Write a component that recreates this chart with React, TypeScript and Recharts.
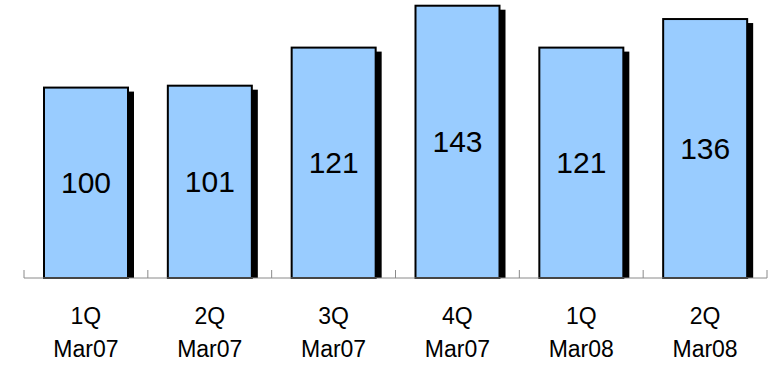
import React from 'react';
import { BarChart, Bar, XAxis, YAxis, LabelList } from 'recharts';

const quarters = ['1Q', '2Q', '3Q', '4Q', '1Q', '2Q'];
const periods = ['Mar07', 'Mar07', 'Mar07', 'Mar07', 'Mar08', 'Mar08'];
const values = [100, 101, 121, 143, 121, 136];

const data = values.map((v, i) => ({ name: `${quarters[i]}|${periods[i]}`, value: v }));

const FONT = '"Liberation Sans", Arial, sans-serif';
const AXIS_COLOR = '#8a8a8a';

const ShadowBar = (props: any) => {
  const { x, y, width, height } = props;
  return (
    <g>
      <rect x={x + 6} y={y + 4} width={width} height={Math.max(height - 4, 0)} fill="#000" />
      <rect x={x} y={y} width={width} height={height} fill="#99CCFF" stroke="#000" strokeWidth={2} />
    </g>
  );
};

const QuarterTick = (props: any) => {
  const { x, y, payload, index, visibleTicksCount } = props;
  const band = 743 / 6;
  const [q, p] = String(payload.value).split('|');
  return (
    <g>
      <line x1={x - band / 2} x2={x - band / 2} y1={y} y2={y - 8} stroke={AXIS_COLOR} />
      {index === visibleTicksCount - 1 && (
        <line x1={x + band / 2} x2={x + band / 2} y1={y} y2={y - 8} stroke={AXIS_COLOR} />
      )}
      <text x={x} y={y} textAnchor="middle" fill="#000" fontSize={23} fontFamily={FONT}>
        <tspan x={x} dy={46}>{q}</tspan>
        <tspan x={x} dy={33}>{p}</tspan>
      </text>
    </g>
  );
};

const ValueLabel = (props: any) => {
  const { x, y, width, height, value } = props;
  return (
    <text
      x={x + width / 2}
      y={y + height / 2}
      dy={10}
      textAnchor="middle"
      fill="#000"
      fontSize={30}
      fontFamily={FONT}
    >
      {value}
    </text>
  );
};

export default function App() {
  return (
    <div style={{ position: 'absolute', left: 0, top: 0, background: '#fff' }}>
      <BarChart
        width={775}
        height={365}
        data={data}
        margin={{ top: 0, right: 8, left: 24, bottom: 0 }}
        barSize={84}
      >
        <XAxis
          dataKey="name"
          height={87}
          interval={0}
          tickSize={0}
          tickMargin={0}
          tickLine={false}
          axisLine={{ stroke: AXIS_COLOR, strokeWidth: 1 }}
          tick={<QuarterTick />}
        />
        <YAxis hide domain={[0, 146]} />
        <Bar dataKey="value" shape={<ShadowBar />} isAnimationActive={false}>
          <LabelList dataKey="value" content={<ValueLabel />} />
        </Bar>
      </BarChart>
    </div>
  );
}
